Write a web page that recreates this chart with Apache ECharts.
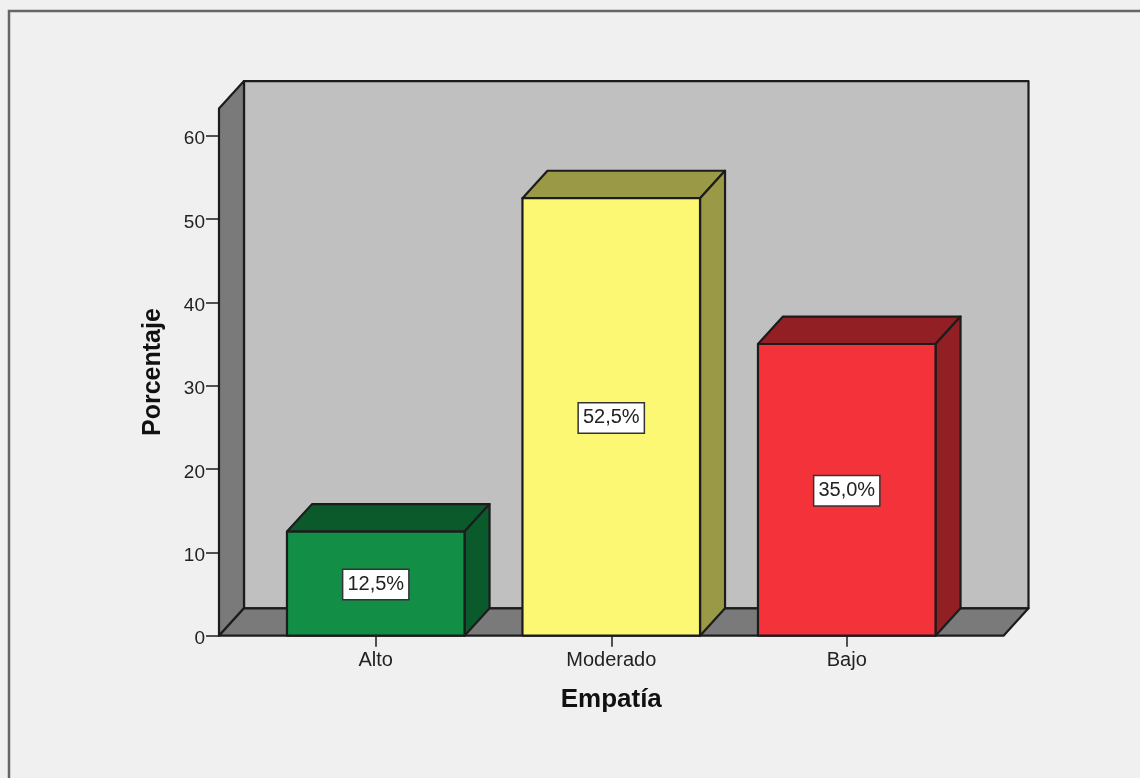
<!DOCTYPE html>
<html>
<head>
<meta charset="utf-8">
<style>html,body{margin:0;padding:0;background:#f0f0f0}#c{width:1140px;height:778px}</style>
<script src="https://cdn.jsdelivr.net/npm/echarts@6/dist/echarts.min.js"></script>
</head>
<body>
<div id="c"></div>
<script>
const categories = ['Alto', 'Moderado', 'Bajo'];
const values = [12.5, 52.5, 35.0];
const valueLabels = ['12,5%', '52,5%', '35,0%'];
const frontColors = ['#128e47', '#fdf873', '#f33339'];
const sideColors = ['#0a5a2c', '#9a9a46', '#911f23'];
const yTicks = [0, 10, 20, 30, 40, 50, 60];
const yMax = 63.26;

const DX = 25, DY = -27.4, WALL_PAD = 39, LINE = '#1c1c1c', LW = 2.2;
const font = 'Liberation Sans, Arial, sans-serif';

function poly(points, fill) {
  return { type: 'polygon', shape: { points }, style: { fill, stroke: LINE, lineWidth: LW, lineJoin: 'round' } };
}

function renderWalls(params, api) {
  const cs = params.coordSys;
  const x0 = cs.x - WALL_PAD, x1 = cs.x + cs.width + WALL_PAD;
  const yb = api.coord([0, 0])[1], yt = api.coord([0, yMax])[1];
  return {
    type: 'group',
    children: [
      poly([[x0 + DX, yt + DY], [x1 + DX, yt + DY], [x1 + DX, yb + DY], [x0 + DX, yb + DY]], '#c0c0c0'),
      poly([[x0, yt], [x0 + DX, yt + DY], [x0 + DX, yb + DY], [x0, yb]], '#7a7a7a'),
      poly([[x0, yb], [x0 + DX, yb + DY], [x1 + DX, yb + DY], [x1, yb]], '#7a7a7a')
    ]
  };
}

function renderBar(params, api) {
  const i = api.value(0);
  const top = api.coord([i, api.value(1)]);
  const base = api.coord([i, 0]);
  const w = api.size([1, 0])[0] * 0.754;
  const l = top[0] - w / 2, r = top[0] + w / 2;
  const mid = api.coord([i, api.value(1) / 2]);
  return {
    type: 'group',
    children: [
      poly([[l, top[1]], [l + DX, top[1] + DY], [r + DX, top[1] + DY], [r, top[1]]], sideColors[i]),
      poly([[r, top[1]], [r + DX, top[1] + DY], [r + DX, base[1] + DY], [r, base[1]]], sideColors[i]),
      poly([[l, top[1]], [r, top[1]], [r, base[1]], [l, base[1]]], frontColors[i]),
      {
        type: 'text', x: top[0], y: mid[1] + 1,
        style: {
          text: valueLabels[i], x: 0, y: 0, align: 'center', verticalAlign: 'middle',
          font: '20px ' + font, fill: '#222', backgroundColor: '#fff',
          borderColor: '#333', borderWidth: 1.5, padding: [7, 4, 2, 4]
        }
      }
    ]
  };
}

const chart = echarts.init(document.getElementById('c'), null, { renderer: 'canvas' });
chart.setOption({
  animation: false,
  backgroundColor: '#f0f0f0',
  graphic: [
    { type: 'polyline', shape: { points: [[9, 778], [9, 11], [1140, 11]] }, style: { stroke: '#666', lineWidth: 2.5, fill: null } }
  ],
  grid: { left: 258, width: 706.5, top: 108.5, height: 527.2 },
  xAxis: {
    type: 'category', data: categories, position: 'bottom',
    name: 'Empatía', nameLocation: 'middle', nameGap: 51,
    nameTextStyle: { fontFamily: font, fontWeight: 'bold', fontSize: 26, color: '#111' },
    axisLine: { show: false },
    axisTick: { show: true, alignWithLabel: true, interval: 0, length: 11, lineStyle: { color: LINE, width: 1.5 } },
    axisLabel: { fontFamily: font, fontSize: 20, color: '#222', margin: 15, interval: 0 }
  },
  yAxis: {
    type: 'value', min: 0, max: yMax, interval: 10, offset: WALL_PAD,
    name: 'Porcentaje', nameLocation: 'middle', nameGap: 53,
    nameTextStyle: { fontFamily: font, fontWeight: 'bold', fontSize: 25, color: '#111' },
    axisLine: { show: false },
    splitLine: { show: false },
    axisTick: { show: true, length: 13, customValues: yTicks, lineStyle: { color: LINE, width: 1.5 } },
    axisLabel: { fontFamily: font, fontSize: 19, color: '#222', margin: 14, verticalAlign: 'top', lineHeight: 7, customValues: yTicks }
  },
  series: [
    { type: 'custom', silent: true, clip: false, z: 1, renderItem: renderWalls, data: [[0, 0]], encode: { x: 0, y: 1 } },
    { type: 'custom', silent: true, clip: false, z: 2, renderItem: renderBar,
      data: values.map((v, i) => [i, v]), encode: { x: 0, y: 1 } }
  ]
});
</script>
</body>
</html>
